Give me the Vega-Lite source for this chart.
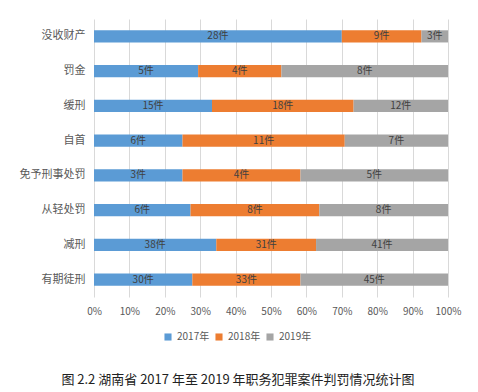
{
  "$schema": "https://vega.github.io/schema/vega-lite/v6.json",
  "width": 354,
  "height": 278,
  "autosize": {"type": "none"},
  "padding": {"left": 94, "top": 19, "right": 30, "bottom": 95},
  "background": "white",
  "config": {
    "view": {"stroke": null},
    "font": "Noto Sans CJK SC",
    "axisX": {
      "title": null,
      "values": [0, 0.1, 0.2, 0.3, 0.4, 0.5, 0.6, 0.7, 0.8, 0.9, 1],
      "format": ".0%",
      "domain": false,
      "ticks": false,
      "grid": true,
      "gridColor": "#D9D9D9",
      "gridWidth": 1,
      "labelOverlap": false,
      "labelFlush": false,
      "labelPadding": 9,
      "labelFontSize": 10,
      "labelColor": "#595959",
      "labelFont": "Noto Sans CJK SC"
    }
  },
  "title": {
    "text": "图 2.2 湖南省 2017 年至 2019 年职务犯罪案件判罚情况统计图",
    "orient": "bottom",
    "anchor": "middle",
    "fontSize": 13,
    "fontWeight": "normal",
    "color": "#222222",
    "font": "Noto Sans CJK SC",
    "offset": 32,
    "dx": -33
  },
  "data": {
    "values": [
      {"category": "没收财产", "year": "2017年", "count": 28},
      {"category": "没收财产", "year": "2018年", "count": 9},
      {"category": "没收财产", "year": "2019年", "count": 3},
      {"category": "罚金", "year": "2017年", "count": 5},
      {"category": "罚金", "year": "2018年", "count": 4},
      {"category": "罚金", "year": "2019年", "count": 8},
      {"category": "缓刑", "year": "2017年", "count": 15},
      {"category": "缓刑", "year": "2018年", "count": 18},
      {"category": "缓刑", "year": "2019年", "count": 12},
      {"category": "自首", "year": "2017年", "count": 6},
      {"category": "自首", "year": "2018年", "count": 11},
      {"category": "自首", "year": "2019年", "count": 7},
      {"category": "免予刑事处罚", "year": "2017年", "count": 3},
      {"category": "免予刑事处罚", "year": "2018年", "count": 4},
      {"category": "免予刑事处罚", "year": "2019年", "count": 5},
      {"category": "从轻处罚", "year": "2017年", "count": 6},
      {"category": "从轻处罚", "year": "2018年", "count": 8},
      {"category": "从轻处罚", "year": "2019年", "count": 8},
      {"category": "减刑", "year": "2017年", "count": 38},
      {"category": "减刑", "year": "2018年", "count": 31},
      {"category": "减刑", "year": "2019年", "count": 41},
      {"category": "有期徒刑", "year": "2017年", "count": 30},
      {"category": "有期徒刑", "year": "2018年", "count": 33},
      {"category": "有期徒刑", "year": "2019年", "count": 45}
    ]
  },
  "transform": [
    {"stack": "count", "groupby": ["category"], "sort": [{"field": "year", "order": "ascending"}], "as": ["x0", "x1"], "offset": "normalize"},
    {"calculate": "(datum.x0 + datum.x1) / 2", "as": "xm"},
    {"calculate": "datum.count + '件'", "as": "label"}
  ],
  "encoding": {
    "y": {
      "field": "category",
      "type": "nominal",
      "sort": ["没收财产", "罚金", "缓刑", "自首", "免予刑事处罚", "从轻处罚", "减刑", "有期徒刑"],
      "scale": {"paddingInner": 0.65, "paddingOuter": 0.325},
      "axis": {
        "title": null,
        "domain": false,
        "ticks": false,
        "grid": false,
        "labelPadding": 9,
        "labelFontSize": 11,
        "labelColor": "#595959",
        "labelFont": "Noto Sans CJK SC"
      }
    }
  },
  "layer": [
    {
      "mark": {"type": "bar"},
      "encoding": {
        "x": {
          "field": "x0",
          "type": "quantitative",
          "scale": {"domain": [0, 1], "nice": false},
          "axis": {"title": null, "values": [0, 0.1, 0.2, 0.3, 0.4, 0.5, 0.6, 0.7, 0.8, 0.9, 1], "format": ".0%"}
        },
        "x2": {"field": "x1"},
        "color": {
          "field": "year",
          "type": "nominal",
          "scale": {"domain": ["2017年", "2018年", "2019年"], "range": ["#5B9BD5", "#ED7D31", "#A5A5A5"]},
          "legend": {
            "title": null,
            "orient": "none",
            "legendX": 69,
            "legendY": 313,
            "direction": "horizontal",
            "symbolType": "square",
            "symbolSize": 50,
            "symbolStrokeWidth": 0,
            "labelFontSize": 10,
            "labelColor": "#595959",
            "labelFont": "Noto Sans CJK SC",
            "labelOffset": 4,
            "columnPadding": 4
          }
        }
      }
    },
    {
      "mark": {"type": "text", "fontSize": 10, "color": "#404040", "font": "Noto Sans CJK SC"},
      "encoding": {
        "x": {
          "field": "xm",
          "type": "quantitative",
          "axis": {"title": null, "values": [0, 0.1, 0.2, 0.3, 0.4, 0.5, 0.6, 0.7, 0.8, 0.9, 1], "format": ".0%"}
        },
        "text": {"field": "label"}
      }
    }
  ]
}
